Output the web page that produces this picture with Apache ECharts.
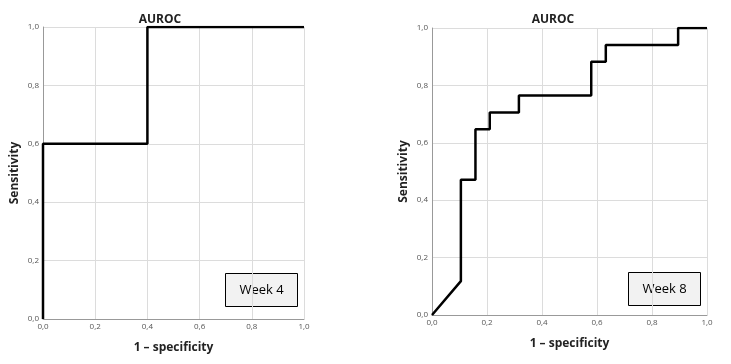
<!DOCTYPE html>
<html>
<head>
<meta charset="utf-8">
<script src="https://cdn.jsdelivr.net/npm/echarts@6/dist/echarts.min.js"></script>
<style>
  html, body { margin: 0; padding: 0; background: #fff; }
  #main { width: 731px; height: 364px; }
</style>
</head>
<body>
<div id="main"></div>
<script>
let myChart = echarts.init(document.getElementById('main'));

// ROC curves (x = 1 - specificity, y = sensitivity)
const week4X = [0, 0, 0.4, 0.4, 1];
const week4Y = [0, 0.6, 0.6, 1, 1];

const week8X = [0, 0.105, 0.105, 0.158, 0.158, 0.21, 0.21, 0.316, 0.316, 0.579, 0.579, 0.632, 0.632, 0.895, 0.895, 1];
const week8Y = [0, 0.118, 0.471, 0.471, 0.647, 0.647, 0.706, 0.706, 0.765, 0.765, 0.882, 0.882, 0.941, 0.941, 1, 1];

const tickLabels = ['0,0', '0,2', '0,4', '0,6', '0,8', '1,0'];
const panelTitles = ['AUROC', 'AUROC'];
const weekLabels = ['Week 4', 'Week 8'];

const toPairs = (xs, ys) => xs.map((x, i) => [x, ys[i]]);

const fontFamily = '"Open Sans", "Noto Sans", sans-serif';

let fmt = function (v) {
    return tickLabels[Math.round(v / 0.2)];
};

let makeAxis = function (idx, name, isY) {
    return {
        type: 'value',
        gridIndex: idx,
        min: 0,
        max: 1,
        interval: 0.2,
        name: name,
        nameLocation: 'middle',
        nameGap: isY ? 22 : 23,
        nameTextStyle: {fontFamily: fontFamily, fontWeight: 'bold', fontSize: 12, color: '#222'},
        axisLine: {show: true, lineStyle: {color: '#999', width: 1}},
        axisTick: {show: false},
        axisLabel: {fontFamily: fontFamily, fontSize: 8, color: '#555', margin: 4, formatter: fmt},
        splitLine: {show: true, lineStyle: {color: '#dcdcdc', width: 1}}
    };
};

let option = {
    animation: false,
    title: [
        {text: panelTitles[0], left: 155, top: 9, textAlign: 'center',
            textStyle: {fontFamily: fontFamily, fontSize: 12, fontWeight: 'bold', color: '#222'}},
        {text: panelTitles[1], left: 548, top: 9, textAlign: 'center',
            textStyle: {fontFamily: fontFamily, fontSize: 12, fontWeight: 'bold', color: '#222'}}
    ],
    grid: [
        {left: 43, top: 27, width: 261, height: 292},
        {left: 432, top: 28, width: 275, height: 287}
    ],
    xAxis: [
        makeAxis(0, '1 – specificity', false),
        makeAxis(1, '1 – specificity', false)
    ],
    yAxis: [
        makeAxis(0, 'Sensitivity', true),
        makeAxis(1, 'Sensitivity', true)
    ],
    series: [
        {
            type: 'line',
            xAxisIndex: 0,
            yAxisIndex: 0,
            showSymbol: false,
            lineStyle: {color: '#000', width: 2.5},
            data: toPairs(week4X, week4Y)
        },
        {
            type: 'line',
            xAxisIndex: 1,
            yAxisIndex: 1,
            showSymbol: false,
            lineStyle: {color: '#000', width: 2.5},
            data: toPairs(week8X, week8Y)
        }
    ],
    graphic: [
        {
            type: 'group', left: 225, top: 273,
            children: [
                {type: 'rect', shape: {x: 0, y: 0, width: 72, height: 33},
                    style: {fill: '#f2f2f2', stroke: '#000', lineWidth: 1}},
                {type: 'text', x: 36, y: 17,
                    style: {text: weekLabels[0], fontFamily: fontFamily, fontSize: 13, fill: '#000',
                        textAlign: 'center', textVerticalAlign: 'middle'}}
            ]
        },
        {
            type: 'group', left: 628, top: 272,
            children: [
                {type: 'rect', shape: {x: 0, y: 0, width: 72, height: 33},
                    style: {fill: '#f2f2f2', stroke: '#000', lineWidth: 1}},
                {type: 'text', x: 36, y: 17,
                    style: {text: weekLabels[1], fontFamily: fontFamily, fontSize: 13, fill: '#000',
                        textAlign: 'center', textVerticalAlign: 'middle'}}
            ]
        }
    ]
};

myChart.setOption(option);
</script>
</body>
</html>
